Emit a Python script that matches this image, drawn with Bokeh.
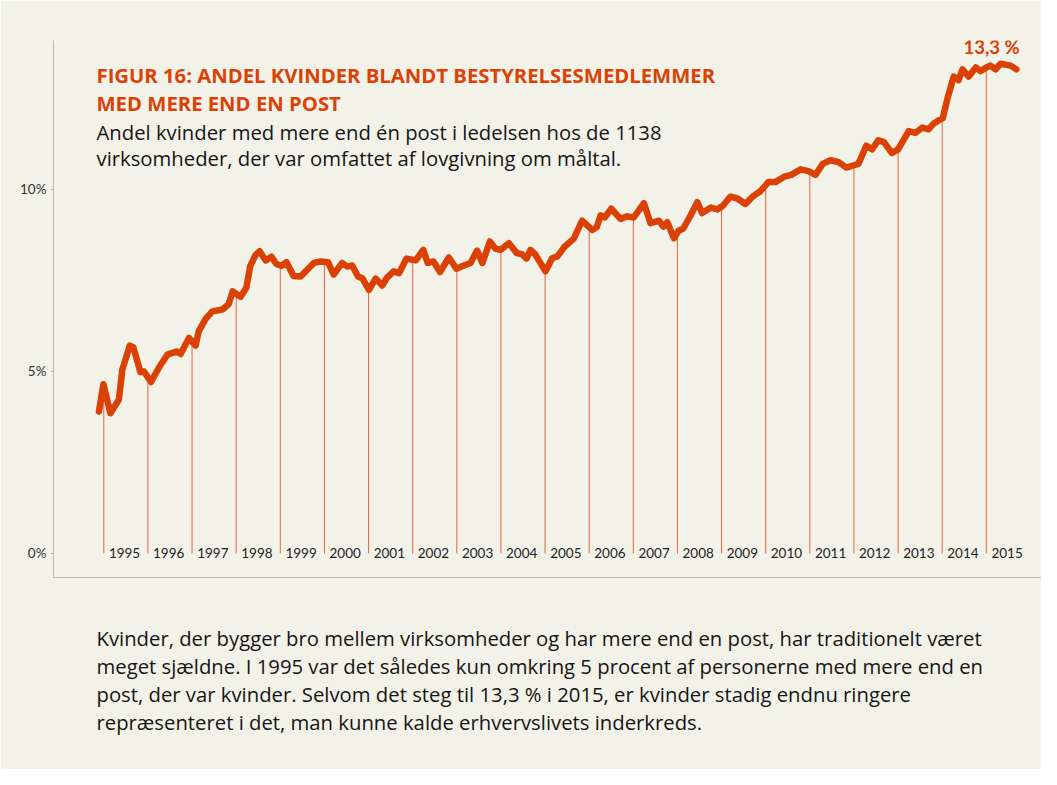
from bokeh.plotting import figure
from bokeh.models import Range1d, FixedTicker, Label, Title
from bokeh.core.properties import value
from bokeh.embed import file_html
from bokeh.resources import INLINE
import numpy as np

# ---------------- data ----------------
years = [1994.89, 1994.99, 1995.15, 1995.34, 1995.42, 1995.59, 1995.67, 1995.83, 1995.91,
         1996.07, 1996.25, 1996.44, 1996.66, 1996.74, 1996.93, 1997.08, 1997.15, 1997.31,
         1997.46, 1997.69, 1997.83, 1997.92, 1998.10, 1998.23, 1998.32, 1998.44, 1998.53,
         1998.67, 1998.80, 1998.91, 1999.03, 1999.14, 1999.30, 1999.46, 1999.76, 1999.91,
         2000.08, 2000.21, 2000.40, 2000.52, 2000.63, 2000.76, 2000.86, 2001.01, 2001.16,
         2001.31, 2001.42, 2001.57, 2001.69, 2001.86, 2002.07, 2002.24, 2002.34, 2002.47,
         2002.62, 2002.82, 2002.99, 2003.16, 2003.31, 2003.46, 2003.58, 2003.75, 2003.88,
         2003.99, 2004.18, 2004.36, 2004.48, 2004.58, 2004.67, 2004.78, 2005.01, 2005.16,
         2005.28, 2005.43, 2005.56, 2005.65, 2005.84, 2006.07, 2006.17, 2006.26, 2006.35,
         2006.50, 2006.71, 2006.86, 2007.01, 2007.24, 2007.39, 2007.58, 2007.68, 2007.77,
         2007.92, 2008.03, 2008.13, 2008.30, 2008.45, 2008.56, 2008.76, 2008.90, 2009.03,
         2009.20, 2009.36, 2009.54, 2009.70, 2009.88, 2010.06, 2010.22, 2010.42, 2010.58,
         2010.79, 2010.97, 2011.13, 2011.29, 2011.47, 2011.65, 2011.83, 2011.96, 2012.10,
         2012.28, 2012.41, 2012.55, 2012.68, 2012.86, 2013.00, 2013.24, 2013.39, 2013.55,
         2013.69, 2013.80, 2013.92, 2014.01, 2014.12, 2014.26, 2014.37, 2014.46, 2014.60,
         2014.76, 2014.87, 2015.00, 2015.09, 2015.21, 2015.32, 2015.55, 2015.68]
share = [3.90, 4.65, 3.85, 4.22, 5.05, 5.71, 5.66, 4.98, 5.00,
         4.71, 5.11, 5.46, 5.55, 5.48, 5.92, 5.71, 6.10, 6.45,
         6.65, 6.70, 6.85, 7.20, 7.05, 7.30, 7.90, 8.20, 8.30,
         8.05, 8.15, 7.95, 7.90, 8.00, 7.62, 7.61, 7.98, 8.02,
         8.00, 7.66, 7.98, 7.88, 7.91, 7.61, 7.56, 7.24, 7.55,
         7.36, 7.58, 7.75, 7.70, 8.10, 8.05, 8.34, 7.98, 8.02,
         7.73, 8.13, 7.82, 7.91, 7.98, 8.32, 7.98, 8.57, 8.37,
         8.34, 8.52, 8.25, 8.22, 8.10, 8.34, 8.21, 7.75, 8.11,
         8.16, 8.41, 8.55, 8.65, 9.14, 8.89, 8.96, 9.29, 9.23,
         9.47, 9.19, 9.26, 9.23, 9.62, 9.07, 9.14, 8.98, 9.10,
         8.66, 8.87, 8.92, 9.29, 9.65, 9.35, 9.50, 9.45, 9.55,
         9.80, 9.75, 9.60, 9.80, 9.95, 10.20, 10.20, 10.35, 10.40,
         10.55, 10.50, 10.40, 10.70, 10.80, 10.75, 10.60, 10.65, 10.70,
         11.20, 11.10, 11.35, 11.30, 11.00, 11.10, 11.60, 11.55, 11.70,
         11.65, 11.80, 11.90, 11.95, 12.50, 13.10, 13.00, 13.30, 13.10,
         13.35, 13.25, 13.35, 13.40, 13.30, 13.45, 13.40, 13.30]

year_ticks = list(range(1995, 2016))
year_labels = [str(y) for y in year_ticks]
y_ticks = [0, 5, 10]
y_tick_labels = ["0%", "5%", "10%"]
end_label = "13,3 %"
title_lines = ["FIGUR 16: ANDEL KVINDER BLANDT BESTYRELSESMEDLEMMER",
               "MED MERE END EN POST"]
subtitle_lines = ["Andel kvinder med mere end én post i ledelsen hos de 1138",
                  "virksomheder, der var omfattet af lovgivning om måltal."]
body_lines = ["Kvinder, der bygger bro mellem virksomheder og har mere end en post, har traditionelt været",
              "meget sjældne. I 1995 var det således kun omkring 5 procent af personerne med mere end en",
              "post, der var kvinder. Selvom det steg til 13,3 % i 2015, er kvinder stadig endnu ringere",
              "repræsenteret i det, man kunne kalde erhvervslivets inderkreds."]

# ---------------- style ----------------
BG = "#F3F2E8"
ORANGE = "#DB4105"
VLINE = "#E2643C"
AXIS = "#B9B8B0"
TEXT = "#151515"
FS = "20.3px"

p = figure(output_backend="svg", toolbar_location=None,
           frame_width=988, frame_height=537,
           min_border_left=53, min_border_right=0, min_border_top=40, min_border_bottom=192,
           x_range=Range1d(1993.86, 2016.25), y_range=Range1d(-0.66, 14.09),
           background_fill_color=BG, border_fill_color=BG, outline_line_color=None)
p.grid.visible = False

# axes
p.yaxis.ticker = FixedTicker(ticks=y_ticks)
p.yaxis.major_label_overrides = {t: l for t, l in zip(y_ticks, y_tick_labels)}
p.yaxis.axis_line_color = AXIS
p.yaxis.major_tick_line_color = AXIS
p.yaxis.major_tick_out = 3
p.yaxis.major_tick_in = 0
p.yaxis.minor_tick_line_color = None
p.yaxis.major_label_standoff = 4
p.yaxis.major_label_text_font = "Lato"
p.yaxis.major_label_text_font_size = "13.5px"
p.yaxis.major_label_text_color = "#333333"

p.xaxis.ticker = FixedTicker(ticks=[])
p.xaxis.axis_line_color = AXIS
p.xaxis.major_tick_line_color = None
p.xaxis.minor_tick_line_color = None

# year marker lines (from 0 up to the series)
tops = np.interp(year_ticks, years, share)
p.segment(x0=year_ticks, y0=[0] * len(year_ticks), x1=year_ticks, y1=tops,
          line_color=VLINE, line_width=1)
p.text(x=[y + 0.47 for y in year_ticks], y=[0] * len(year_ticks), text=year_labels,
       text_align="center", text_baseline="middle", text_font=value("Lato"),
       text_font_size="13.5px", text_color="#222222")

# the series
p.line(years, share, line_color=ORANGE, line_width=6.5, line_join="round", line_cap="round")

# texts inside the chart (screen units relative to plot frame bottom-left)
def add_label(txt, x, y, size, color, style="normal", font="Open Sans"):
    p.add_layout(Label(x=x, y=y, x_units="screen", y_units="screen", text=txt,
                       text_font=font, text_font_size=size, text_color=color,
                       text_font_style=style, text_baseline="alphabetic"))

for txt, yb in zip(title_lines, [503, 475]):
    add_label(txt, 43, yb, FS, ORANGE, "bold")
for txt, yb in zip(subtitle_lines, [446, 420]):
    add_label(txt, 43, yb, FS, TEXT)
add_label(end_label, 910, 531, "18.5px", ORANGE, "bold", "Lato")

# paragraph below the chart (spacer + one title per line)
p.add_layout(Title(text=" ", text_font_size="1px", standoff=42), "below")
for txt in body_lines:
    p.add_layout(Title(text=txt, align="left", offset=43, standoff=-2,
                       text_font="Open Sans", text_font_size=FS, text_font_style="normal",
                       text_color=TEXT), "below")

open("out.html", "w").write(file_html(p, INLINE))
